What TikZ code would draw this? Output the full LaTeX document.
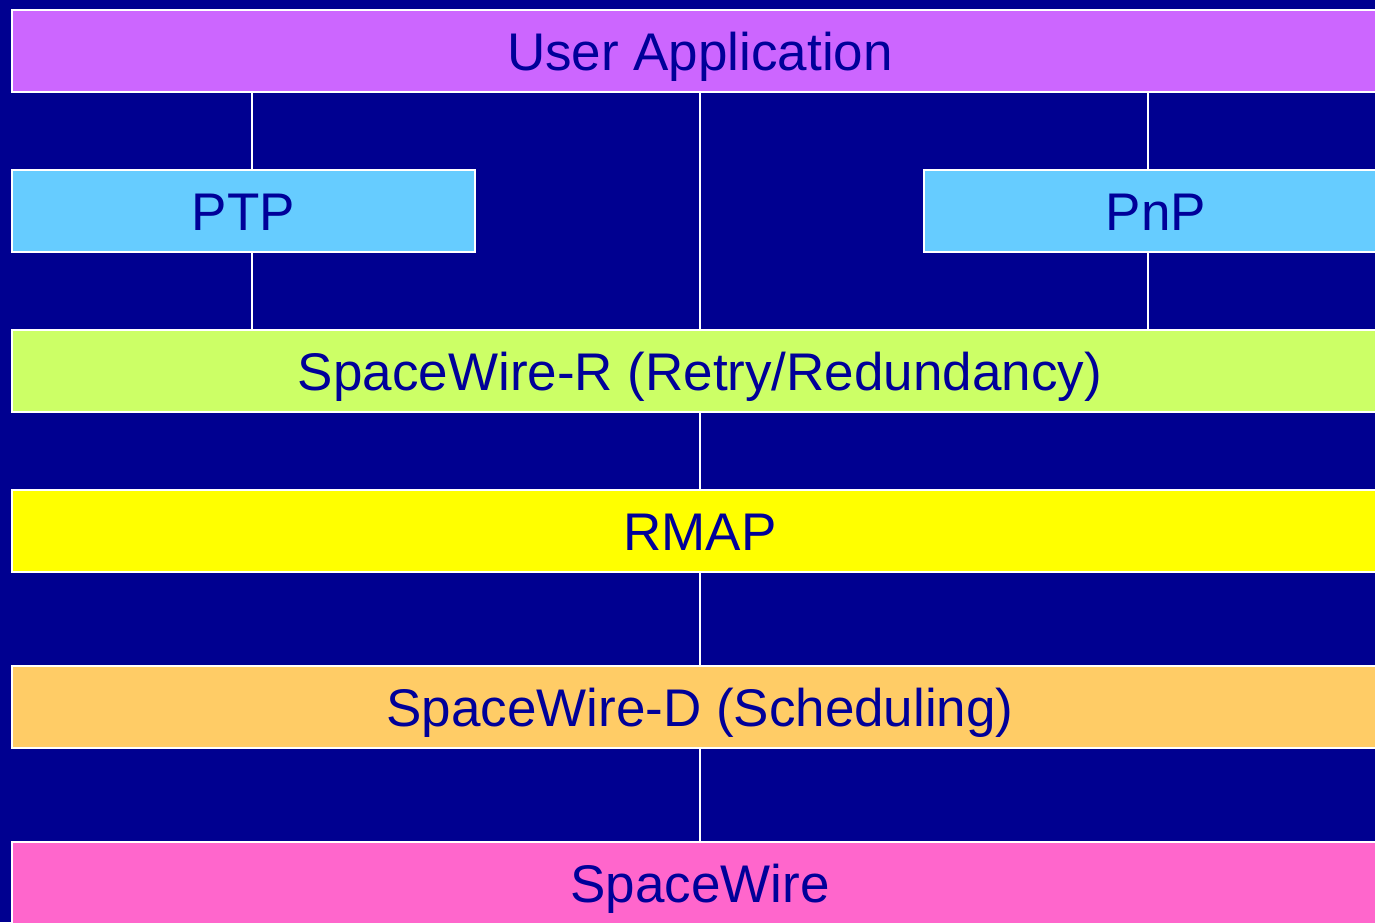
\documentclass[tikz,border=0pt]{standalone}
\usepackage{fontspec}
\setmainfont{Liberation Sans}
\definecolor{navybg}{HTML}{000090}
\definecolor{navytext}{HTML}{000099}
\definecolor{appcol}{HTML}{CC66FF}
\definecolor{svccol}{HTML}{66CCFF}
\definecolor{swrcol}{HTML}{CCFF66}
\definecolor{rmapcol}{HTML}{FFFF00}
\definecolor{swdcol}{HTML}{FFCC66}
\definecolor{swcol}{HTML}{FF66CC}
\begin{document}
\begin{tikzpicture}[x=1pt,y=-1pt,
  layer/.style={draw=white, line width=2pt, rectangle, inner sep=0pt,
    minimum height=82pt, text=navytext,
    font=\fontsize{53}{60}\selectfont, text height=38pt, text depth=0pt},
  wide/.style={layer, minimum width=1376pt},
  half/.style={layer, minimum width=463pt},
  link/.style={draw=white, line width=1.5pt}]
  \useasboundingbox (0,0) rectangle (1375,922);
  \clip (0,0) rectangle (1375,922);
  \fill[navybg] (0,0) rectangle (1375,922);

  % protocol stack
  \node[wide, fill=appcol]  (ua)  at (700,51)    {User Application};
  \node[half, fill=svccol]  (ptp) at (243.5,211) {PTP};
  \node[half, fill=svccol, minimum width=464pt] (pnp) at (1156,211) {PnP};
  \node[wide, fill=swrcol]  (swr) at (700,371)   {SpaceWire-R (Retry/Redundancy)};
  \node[wide, fill=rmapcol] (rmap) at (700,531)  {RMAP};
  \node[wide, fill=swdcol]  (swd) at (700,707)   {SpaceWire-D (Scheduling)};
  \node[wide, fill=swcol]   (sw)  at (700,883)   {SpaceWire};

  % vertical links between layers
  \coordinate (colL) at (252,0);
  \coordinate (colM) at (700,0);
  \coordinate (colR) at (1148,0);
  \draw[link] (ua.south -| colL) -- (ptp.north -| colL);
  \draw[link] (ptp.south -| colL) -- (swr.north -| colL);
  \draw[link] (ua.south -| colM) -- (swr.north -| colM);
  \draw[link] (ua.south -| colR) -- (pnp.north -| colR);
  \draw[link] (pnp.south -| colR) -- (swr.north -| colR);
  \draw[link] (swr.south -| colM) -- (rmap.north -| colM);
  \draw[link] (rmap.south -| colM) -- (swd.north -| colM);
  \draw[link] (swd.south -| colM) -- (sw.north -| colM);
\end{tikzpicture}
\end{document}
